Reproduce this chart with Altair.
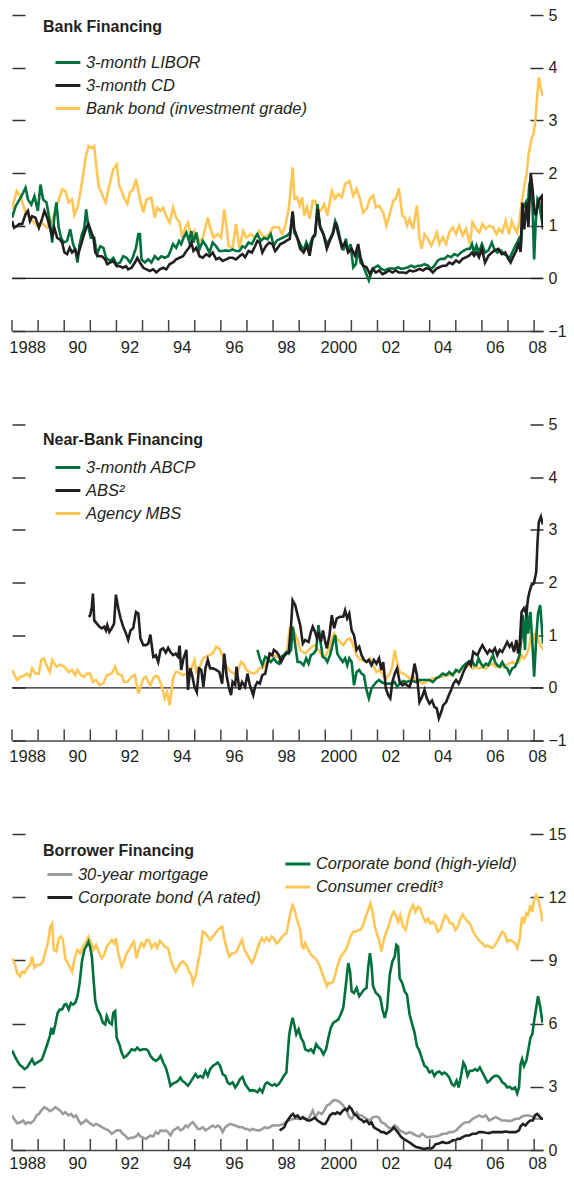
import altair as alt
import pandas as pd

# ------------------------------------------------------------------ data
# (decimal year, percentage points) pairs
LIBOR = [(1988.00,1.15),(1988.14,1.37),(1988.33,1.53),(1988.52,1.72),(1988.61,1.50),(1988.74,1.40),(1988.86,1.56),(1988.99,1.28),(1989.09,1.78),(1989.19,1.50),(1989.32,1.44),(1989.45,1.09),(1989.54,0.68),(1989.62,1.15),(1989.70,1.44),(1989.79,0.96),(1989.88,0.77),(1989.98,0.68),(1990.11,0.71),(1990.23,0.93),(1990.34,0.65),(1990.42,0.55),(1990.51,0.30),(1990.59,0.65),(1990.68,0.84),(1990.77,0.96),(1990.84,1.31),(1990.93,0.96),(1991.02,0.77),(1991.15,0.77),(1991.25,0.46),(1991.38,0.61),(1991.50,0.58),(1991.60,0.39),(1991.76,0.33),(1991.88,0.39),(1992.01,0.27),(1992.14,0.30),(1992.26,0.42),(1992.39,0.39),(1992.52,0.30),(1992.62,0.39),(1992.75,0.58),(1992.84,0.84),(1992.90,0.84),(1992.96,0.36),(1993.09,0.30),(1993.22,0.36),(1993.34,0.30),(1993.47,0.42),(1993.60,0.36),(1993.72,0.42),(1993.85,0.39),(1993.98,0.42),(1994.07,0.52),(1994.17,0.65),(1994.29,0.58),(1994.40,0.71),(1994.48,0.65),(1994.57,0.77),(1994.68,0.87),(1994.78,0.71),(1994.87,0.90),(1994.95,0.68),(1995.06,0.87),(1995.18,0.55),(1995.31,0.71),(1995.44,0.61),(1995.56,0.49),(1995.69,0.68),(1995.82,0.61),(1995.94,0.52),(1996.07,0.52),(1996.20,0.53),(1996.32,0.52),(1996.45,0.55),(1996.58,0.52),(1996.71,0.52),(1996.83,0.61),(1996.93,0.58),(1997.06,0.68),(1997.19,0.65),(1997.31,0.77),(1997.40,0.84),(1997.53,0.71),(1997.66,0.77),(1997.78,0.74),(1997.91,0.84),
         (1998.03,0.62),(1998.15,0.72),(1998.28,0.75),(1998.41,0.78),(1998.53,0.81),(1998.66,0.87),(1998.75,1.25),(1998.81,0.87),(1998.92,0.78),(1999.04,0.65),(1999.17,0.53),(1999.27,0.68),(1999.36,0.56),(1999.49,0.75),(1999.61,0.81),(1999.70,1.41),(1999.80,1.00),(1999.93,0.84),(2000.06,0.65),(2000.18,0.75),(2000.29,0.87),(2000.38,1.09),(2000.46,1.00),(2000.57,0.75),(2000.69,0.53),(2000.79,0.75),(2000.88,0.49),(2000.97,0.65),(2001.07,0.21),(2001.17,0.27),(2001.26,0.56),(2001.35,0.30),(2001.45,0.24),(2001.55,0.11),(2001.67,-0.04),(2001.77,0.11),(2001.90,0.21),(2002.02,0.24),(2002.15,0.18),(2002.28,0.15),(2002.41,0.18),(2002.53,0.19),(2002.66,0.18),(2002.79,0.21),(2002.91,0.18),(2003.04,0.19),(2003.17,0.21),(2003.29,0.24),(2003.42,0.21),(2003.55,0.24),(2003.67,0.24),(2003.80,0.27),(2003.93,0.24),(2004.06,0.18),(2004.18,0.24),(2004.31,0.34),(2004.44,0.37),(2004.56,0.37),(2004.69,0.43),(2004.82,0.40),(2004.94,0.46),(2005.07,0.43),(2005.20,0.49),(2005.32,0.53),(2005.45,0.56),(2005.54,0.56),(2005.62,0.65),(2005.70,0.49),(2005.79,0.62),(2005.89,0.49),(2006.00,0.65),(2006.12,0.49),(2006.25,0.53),(2006.38,0.68),(2006.47,0.56),(2006.59,0.49),(2006.72,0.53),(2006.85,0.46),(2006.97,0.43),(2007.06,0.37),(2007.16,0.49),(2007.29,0.62),(2007.42,0.75),(2007.49,0.56),(2007.58,1.33),(2007.68,1.44),(2007.74,1.20),(2007.81,1.76),(2007.87,1.89),(2007.94,1.37),(2008.00,0.36),(2008.06,1.05),(2008.13,1.50),(2008.19,1.44),(2008.26,1.20),(2008.33,1.00)]

CD = [(1988.00,1.09),(1988.08,0.96),(1988.18,0.99),(1988.27,1.03),(1988.39,1.03),(1988.52,1.22),(1988.61,1.28),(1988.69,1.09),(1988.77,1.18),(1988.90,1.15),(1989.03,0.96),(1989.15,1.13),(1989.24,1.28),(1989.35,1.15),(1989.45,0.96),(1989.54,0.80),(1989.62,0.96),(1989.73,0.77),(1989.83,0.74),(1989.92,0.68),(1990.01,0.49),(1990.11,0.46),(1990.21,0.58),(1990.30,0.49),(1990.42,0.55),(1990.51,0.42),(1990.61,0.58),(1990.72,0.77),(1990.84,0.96),(1990.93,1.03),(1991.02,0.90),(1991.12,0.77),(1991.19,0.49),(1991.31,0.42),(1991.44,0.42),(1991.57,0.36),(1991.65,0.27),(1991.76,0.30),(1991.88,0.33),(1992.01,0.23),(1992.14,0.23),(1992.24,0.20),(1992.37,0.23),(1992.45,0.17),(1992.58,0.20),(1992.71,0.30),(1992.80,0.39),(1992.90,0.30),(1993.03,0.20),(1993.15,0.17),(1993.28,0.14),(1993.41,0.17),(1993.53,0.11),(1993.66,0.17),(1993.79,0.20),(1993.91,0.17),(1994.04,0.27),(1994.17,0.30),(1994.29,0.36),(1994.42,0.39),(1994.55,0.42),(1994.68,0.52),(1994.78,0.58),(1994.87,0.68),(1994.95,0.52),(1995.06,0.58),(1995.18,0.42),(1995.31,0.39),(1995.44,0.46),(1995.56,0.42),(1995.69,0.49),(1995.82,0.36),(1995.94,0.39),(1996.07,0.33),(1996.20,0.36),(1996.32,0.39),(1996.45,0.39),(1996.58,0.36),(1996.71,0.42),(1996.83,0.46),(1996.93,0.40),(1997.06,0.52),(1997.19,0.49),(1997.31,0.61),(1997.40,0.71),(1997.49,0.68),(1997.59,0.49),(1997.72,0.61),(1997.85,0.68),(1997.97,0.65),
      (1998.08,0.52),(1998.15,0.56),(1998.28,0.65),(1998.41,0.68),(1998.53,0.72),(1998.64,0.75),(1998.75,1.27),(1998.81,0.94),(1998.92,0.78),(1999.04,0.56),(1999.17,0.49),(1999.30,0.62),(1999.40,0.43),(1999.52,0.78),(1999.61,0.84),(1999.71,1.32),(1999.80,0.97),(1999.93,0.84),(2000.06,0.56),(2000.18,0.72),(2000.29,0.84),(2000.40,1.06),(2000.50,0.84),(2000.63,0.59),(2000.76,0.68),(2000.88,0.49),(2001.01,0.56),(2001.14,0.43),(2001.26,0.65),(2001.35,0.40),(2001.45,0.24),(2001.58,0.21),(2001.71,0.08),(2001.81,0.18),(2001.94,0.11),(2002.06,0.15),(2002.19,0.08),(2002.32,0.11),(2002.44,0.15),(2002.57,0.11),(2002.70,0.15),(2002.82,0.11),(2002.98,0.11),(2003.10,0.10),(2003.23,0.15),(2003.36,0.13),(2003.48,0.15),(2003.61,0.18),(2003.74,0.15),(2003.86,0.19),(2003.99,0.18),(2004.12,0.11),(2004.25,0.18),(2004.37,0.21),(2004.50,0.24),(2004.63,0.24),(2004.75,0.30),(2004.88,0.27),(2005.01,0.34),(2005.13,0.30),(2005.26,0.37),(2005.39,0.40),(2005.51,0.43),(2005.62,0.49),(2005.70,0.43),(2005.79,0.49),(2005.89,0.40),(2006.00,0.56),(2006.12,0.30),(2006.25,0.43),(2006.38,0.49),(2006.50,0.53),(2006.63,0.56),(2006.76,0.46),(2006.89,0.49),(2007.01,0.37),(2007.10,0.30),(2007.19,0.40),(2007.32,0.53),(2007.42,0.68),(2007.48,0.50),(2007.55,1.44),(2007.62,0.93),(2007.72,1.44),(2007.78,0.97),(2007.87,2.00),(2007.94,1.69),(2008.00,1.33),(2008.06,1.20),(2008.19,1.50),(2008.29,1.56),(2008.34,0.93)]

BANK_BOND = [(1988.00,1.31),(1988.18,1.66),(1988.33,1.56),(1988.46,1.34),(1988.58,1.20),(1988.77,1.10),(1988.96,1.00),(1989.15,1.05),(1989.35,0.96),(1989.54,1.10),(1989.73,1.40),(1989.92,1.69),(1990.04,1.66),(1990.17,1.44),(1990.30,1.50),(1990.39,1.20),(1990.51,1.35),(1990.61,1.60),(1990.72,1.95),(1990.82,2.30),(1990.93,2.51),(1991.06,2.47),(1991.15,2.51),(1991.22,2.16),(1991.32,1.75),(1991.50,1.53),(1991.59,1.44),(1991.72,1.75),(1991.88,2.07),(1992.01,2.16),(1992.11,1.75),(1992.20,1.66),(1992.29,1.53),(1992.42,1.41),(1992.52,1.63),(1992.64,1.69),(1992.75,1.88),(1992.84,1.66),(1992.92,1.47),(1993.03,1.25),(1993.15,1.50),(1993.34,1.53),(1993.47,1.15),(1993.56,1.34),(1993.69,1.28),(1993.79,1.34),(1993.91,1.18),(1994.04,1.06),(1994.17,1.34),(1994.29,1.15),(1994.42,1.06),(1994.52,0.77),(1994.64,0.96),(1994.74,1.06),(1994.87,0.77),(1994.99,0.90),(1995.12,0.68),(1995.31,0.77),(1995.50,1.15),(1995.59,0.96),(1995.72,0.77),(1995.88,0.84),(1996.01,0.77),(1996.13,1.31),(1996.22,0.96),(1996.30,0.61),(1996.45,0.58),(1996.58,1.03),(1996.71,0.58),(1996.86,0.90),(1996.98,0.77),(1997.15,0.84),(1997.31,0.77),(1997.47,0.90),(1997.66,0.77),(1997.85,0.84),(1997.98,0.96),
             (1998.10,0.97),(1998.22,0.97),(1998.35,0.84),(1998.47,1.00),(1998.60,1.32),(1998.69,1.76),(1998.75,2.11),(1998.82,1.51),(1998.92,1.54),(1999.02,1.38),(1999.11,1.54),(1999.20,1.19),(1999.30,1.35),(1999.40,1.13),(1999.52,1.47),(1999.61,1.47),(1999.74,1.25),(1999.87,1.32),(1999.96,1.41),(2000.08,1.19),(2000.25,1.66),(2000.37,1.51),(2000.50,1.60),(2000.63,1.54),(2000.76,1.79),(2000.92,1.85),(2001.07,1.57),(2001.20,1.70),(2001.33,1.51),(2001.45,1.25),(2001.58,1.32),(2001.71,1.51),(2001.83,1.57),(2001.94,1.35),(2002.06,1.38),(2002.22,1.25),(2002.34,1.00),(2002.47,1.22),(2002.60,1.47),(2002.70,1.51),(2002.82,1.71),(2002.95,1.19),(2003.04,1.16),(2003.13,1.00),(2003.23,1.13),(2003.36,0.94),(2003.51,1.38),(2003.61,0.75),(2003.69,0.56),(2003.80,0.84),(2003.93,0.75),(2004.06,0.62),(2004.18,0.75),(2004.27,0.87),(2004.37,0.65),(2004.50,0.78),(2004.63,0.65),(2004.75,0.87),(2004.88,0.97),(2005.01,0.84),(2005.13,1.00),(2005.26,0.81),(2005.39,0.94),(2005.54,0.65),(2005.64,1.06),(2005.77,0.94),(2005.90,0.87),(2006.02,1.03),(2006.15,0.94),(2006.28,1.00),(2006.43,0.97),(2006.56,0.84),(2006.66,0.94),(2006.78,0.87),(2006.91,1.09),(2007.04,0.84),(2007.14,1.09),(2007.23,0.97),(2007.35,0.87),(2007.44,1.09),(2007.52,1.44),(2007.61,1.70),(2007.70,1.95),(2007.80,2.39),(2007.90,2.65),(2007.99,2.77),(2008.05,3.03),(2008.12,3.47),(2008.18,3.82),(2008.26,3.59),(2008.33,3.47)]

ABCP = [(1997.40,0.72),(1997.49,0.56),(1997.59,0.43),(1997.70,0.59),(1997.78,0.56),(1997.91,0.49),(1998.03,0.56),(1998.13,0.49),(1998.22,0.46),(1998.31,0.59),(1998.41,0.62),(1998.51,0.68),(1998.60,0.65),(1998.69,0.72),(1998.76,1.16),(1998.85,0.81),(1998.94,0.49),(1999.04,0.49),(1999.17,0.43),(1999.27,0.56),(1999.36,0.46),(1999.45,0.62),(1999.55,0.65),(1999.65,0.72),(1999.74,1.19),(1999.80,0.94),(1999.90,0.59),(2000.00,0.56),(2000.08,0.49),(2000.18,0.62),(2000.29,0.84),(2000.38,1.00),(2000.46,0.65),(2000.57,0.56),(2000.67,0.49),(2000.76,0.56),(2000.84,0.43),(2000.92,0.56),(2001.01,0.49),(2001.10,0.05),(2001.20,0.30),(2001.30,0.34),(2001.39,0.27),(2001.48,0.24),(2001.58,-0.04),(2001.67,-0.20),(2001.77,-0.01),(2001.86,0.05),(2001.96,0.11),(2002.06,0.15),(2002.15,0.11),(2002.28,0.08),(2002.41,0.08),(2002.53,0.08),(2002.66,0.11),(2002.75,0.02),(2002.85,0.08),(2002.98,0.13),(2003.10,0.11),(2003.23,0.13),(2003.36,0.13),(2003.48,0.11),(2003.61,0.15),(2003.74,0.15),(2003.86,0.15),(2003.99,0.15),(2004.12,0.11),(2004.25,0.18),(2004.37,0.21),(2004.50,0.27),(2004.63,0.24),(2004.75,0.30),(2004.88,0.24),(2005.01,0.34),(2005.13,0.30),(2005.26,0.40),(2005.39,0.46),(2005.49,0.49),(2005.62,0.53),(2005.70,0.43),(2005.79,0.43),(2005.87,0.56),(2005.96,0.46),(2006.05,0.40),(2006.15,0.46),(2006.25,0.43),(2006.34,0.53),(2006.43,0.62),(2006.50,0.49),(2006.59,0.43),(2006.68,0.40),(2006.78,0.49),(2006.88,0.40),(2006.97,0.37),(2007.06,0.27),(2007.16,0.37),(2007.27,0.40),(2007.35,0.49),(2007.44,0.62),(2007.52,0.97),(2007.57,1.38),(2007.65,0.72),(2007.71,1.57),(2007.77,1.03),(2007.86,1.44),(2007.93,0.87),(2008.00,0.21),(2008.08,0.94),(2008.15,1.41),(2008.23,1.57),(2008.29,1.19),(2008.34,0.84)]

ABS = [(1990.93,1.35),(1990.99,1.37),(1991.06,1.54),(1991.10,1.79),(1991.15,1.28),(1991.25,1.22),(1991.35,1.16),(1991.44,1.13),(1991.53,1.16),(1991.60,1.09),(1991.65,1.19),(1991.73,1.06),(1991.82,1.13),(1991.91,1.22),(1991.98,1.77),(1992.07,1.51),(1992.16,1.32),(1992.26,1.16),(1992.37,1.03),(1992.45,0.91),(1992.54,1.09),(1992.64,1.13),(1992.75,1.44),(1992.84,1.41),(1992.92,0.94),(1993.03,0.81),(1993.13,0.81),(1993.22,0.84),(1993.30,1.01),(1993.41,0.59),(1993.51,0.62),(1993.60,0.49),(1993.69,0.72),(1993.79,0.75),(1993.89,0.67),(1993.98,0.76),(1994.07,0.68),(1994.17,0.62),(1994.27,0.65),(1994.36,0.59),(1994.42,0.80),(1994.48,0.34),(1994.57,0.56),(1994.68,0.72),(1994.74,-0.04),(1994.83,0.37),(1994.90,0.24),(1994.99,0.02),(1995.08,-0.08),(1995.16,0.37),(1995.25,0.34),(1995.33,0.02),(1995.41,0.37),(1995.50,0.53),(1995.59,0.37),(1995.69,0.37),(1995.82,0.34),(1995.94,0.30),(1996.05,0.08),(1996.13,0.65),(1996.22,0.24),(1996.30,0.02),(1996.39,-0.14),(1996.45,0.11),(1996.55,0.05),(1996.60,0.40),(1996.71,-0.04),(1996.81,0.11),(1996.93,0.02),(1997.02,0.27),(1997.11,0.05),(1997.24,-0.14),(1997.31,0.02),(1997.40,0.11),(1997.49,0.08),(1997.59,0.24),(1997.70,0.27),(1997.78,0.46),(1997.87,0.65),(1997.97,0.62),
       (1998.03,0.72),(1998.13,0.68),(1998.22,0.62),(1998.31,0.49),(1998.41,0.59),(1998.51,0.65),(1998.60,0.68),(1998.69,1.19),(1998.75,1.66),(1998.85,1.57),(1998.94,1.38),(1999.04,1.19),(1999.14,0.84),(1999.23,0.91),(1999.36,0.87),(1999.45,1.06),(1999.52,1.16),(1999.61,1.06),(1999.68,0.94),(1999.74,1.06),(1999.83,0.87),(1999.91,1.09),(2000.00,0.87),(2000.06,0.75),(2000.16,1.00),(2000.25,1.38),(2000.34,1.13),(2000.44,1.32),(2000.57,1.35),(2000.69,1.35),(2000.76,1.47),(2000.84,1.32),(2000.92,1.41),(2001.01,1.09),(2001.10,1.00),(2001.20,0.72),(2001.30,0.78),(2001.39,0.62),(2001.48,0.53),(2001.58,0.49),(2001.67,0.53),(2001.77,0.43),(2001.86,0.53),(2001.96,0.46),(2002.06,0.56),(2002.15,0.34),(2002.22,0.49),(2002.32,-0.01),(2002.41,-0.14),(2002.49,-0.20),(2002.57,0.11),(2002.66,0.27),(2002.75,0.37),(2002.85,0.11),(2002.95,0.05),(2003.04,0.08),(2003.13,0.05),(2003.23,0.02),(2003.33,0.18),(2003.42,0.46),(2003.51,0.24),(2003.61,-0.27),(2003.71,-0.17),(2003.80,-0.04),(2003.89,-0.20),(2003.99,-0.30),(2004.09,-0.24),(2004.18,-0.36),(2004.27,-0.39),(2004.35,-0.58),(2004.44,-0.46),(2004.52,-0.33),(2004.63,-0.27),(2004.73,-0.14),(2004.82,-0.04),(2004.91,0.08),(2005.01,0.15),(2005.11,0.08),(2005.20,0.18),(2005.29,0.30),(2005.39,0.40),(2005.49,0.49),(2005.58,0.43),(2005.67,0.68),(2005.74,0.65),(2005.83,0.62),(2005.92,0.72),(2006.02,0.81),(2006.12,0.72),(2006.21,0.65),(2006.30,0.72),(2006.40,0.68),(2006.50,0.75),(2006.59,0.62),(2006.68,0.72),(2006.78,0.68),(2006.88,0.78),(2006.97,0.87),(2007.06,0.78),(2007.14,0.84),(2007.23,0.68),(2007.32,0.91),(2007.39,0.65),(2007.44,0.78),(2007.52,1.44),(2007.61,1.51),(2007.70,1.41),(2007.77,1.70),(2007.82,1.82),(2007.90,1.95),(2007.99,1.98),(2008.08,2.20),(2008.13,2.77),(2008.18,3.15),(2008.26,3.25),(2008.33,3.10)]

AGENCY_MBS = [(1988.00,0.34),(1988.10,0.24),(1988.20,0.15),(1988.33,0.21),(1988.46,0.23),(1988.58,0.27),(1988.69,0.21),(1988.77,0.37),(1988.90,0.27),(1989.03,0.27),(1989.12,0.53),(1989.22,0.56),(1989.32,0.43),(1989.45,0.30),(1989.54,0.53),(1989.70,0.40),(1989.85,0.44),(1990.01,0.40),(1990.17,0.30),(1990.30,0.34),(1990.42,0.24),(1990.51,0.34),(1990.64,0.24),(1990.77,0.21),(1990.87,0.27),(1990.99,0.27),(1991.10,0.11),(1991.22,0.15),(1991.35,0.05),(1991.50,0.08),(1991.63,0.24),(1991.82,0.27),(1991.95,0.40),(1992.04,0.27),(1992.20,0.24),(1992.29,0.11),(1992.42,0.11),(1992.58,0.21),(1992.71,0.24),(1992.84,-0.11),(1992.92,0.02),(1993.03,0.18),(1993.13,0.21),(1993.22,0.11),(1993.30,0.05),(1993.41,0.18),(1993.51,0.23),(1993.60,0.21),(1993.72,0.05),(1993.85,-0.20),(1993.94,-0.08),(1994.04,-0.33),(1994.17,0.18),(1994.27,0.30),(1994.36,0.30),(1994.45,0.27),(1994.55,0.24),(1994.68,0.27),(1994.78,0.37),(1994.87,0.37),(1994.99,0.53),(1995.06,0.30),(1995.18,0.37),(1995.31,0.56),(1995.44,0.59),(1995.56,0.62),(1995.69,0.65),(1995.82,0.78),(1995.94,0.75),(1996.05,0.62),(1996.13,0.49),(1996.26,0.37),(1996.39,0.30),(1996.52,0.27),(1996.64,0.30),(1996.77,0.49),(1996.86,0.46),(1996.98,0.34),(1997.11,0.30),(1997.24,0.27),(1997.37,0.30),(1997.47,0.37),(1997.59,0.37),(1997.72,0.46),(1997.85,0.56),(1997.97,0.62),
              (1998.05,0.62),(1998.15,0.59),(1998.28,0.56),(1998.41,0.62),(1998.53,0.68),(1998.64,1.13),(1998.72,1.16),(1998.81,1.06),(1998.92,0.94),(1999.04,0.72),(1999.14,0.68),(1999.23,0.65),(1999.36,0.72),(1999.49,0.78),(1999.61,0.81),(1999.74,0.72),(1999.87,0.62),(2000.00,0.59),(2000.12,0.72),(2000.25,0.94),(2000.34,1.03),(2000.44,0.94),(2000.57,0.87),(2000.69,0.81),(2000.82,0.91),(2000.95,0.94),(2001.07,0.81),(2001.20,0.62),(2001.33,0.53),(2001.45,0.53),(2001.58,0.49),(2001.71,0.56),(2001.83,0.43),(2001.96,0.30),(2002.09,0.34),(2002.21,0.24),(2002.34,0.18),(2002.47,0.27),(2002.57,0.40),(2002.66,0.72),(2002.75,0.49),(2002.85,0.30),(2002.98,0.27),(2003.10,0.24),(2003.23,0.18),(2003.36,0.21),(2003.48,0.15),(2003.61,0.11),(2003.74,0.08),(2003.86,0.11),(2003.99,0.15),(2004.12,0.18),(2004.25,0.18),(2004.37,0.21),(2004.50,0.21),(2004.63,0.24),(2004.75,0.24),(2004.88,0.27),(2005.01,0.30),(2005.13,0.34),(2005.26,0.37),(2005.39,0.40),(2005.51,0.43),(2005.64,0.37),(2005.77,0.40),(2005.89,0.37),(2006.02,0.40),(2006.15,0.37),(2006.28,0.43),(2006.40,0.46),(2006.53,0.40),(2006.66,0.40),(2006.78,0.40),(2006.91,0.43),(2007.04,0.46),(2007.16,0.49),(2007.29,0.46),(2007.42,0.49),(2007.52,0.62),(2007.61,0.56),(2007.70,0.62),(2007.80,0.75),(2007.90,1.06),(2007.99,0.94),(2008.08,1.09),(2008.18,0.87),(2008.28,0.78),(2008.34,0.72)]

MORTGAGE = [(1988.00,1.64),(1988.10,1.43),(1988.20,1.27),(1988.33,1.32),(1988.43,1.40),(1988.52,1.24),(1988.61,1.32),(1988.71,1.27),(1988.84,1.40),(1988.94,1.64),(1989.03,1.71),(1989.12,1.87),(1989.24,2.03),(1989.35,1.95),(1989.45,1.84),(1989.54,1.90),(1989.66,2.03),(1989.75,1.95),(1989.85,1.87),(1989.95,1.71),(1990.04,1.79),(1990.17,1.64),(1990.26,1.71),(1990.36,1.56),(1990.46,1.64),(1990.55,1.40),(1990.64,1.24),(1990.74,1.32),(1990.84,1.43),(1990.93,1.32),(1991.02,1.24),(1991.12,1.16),(1991.22,1.24),(1991.35,1.16),(1991.44,1.08),(1991.57,1.00),(1991.69,0.93),(1991.82,0.77),(1991.91,0.85),(1992.01,0.93),(1992.14,0.93),(1992.24,0.77),(1992.33,0.69),(1992.45,0.53),(1992.54,0.58),(1992.64,0.58),(1992.75,0.64),(1992.84,0.77),(1992.92,0.64),(1993.03,0.58),(1993.13,0.53),(1993.22,0.61),(1993.30,0.69),(1993.41,0.64),(1993.51,0.85),(1993.60,0.77),(1993.69,0.93),(1993.79,0.90),(1993.89,0.93),(1993.98,0.85),(1994.07,0.69),(1994.17,0.93),(1994.27,1.00),(1994.36,1.08),(1994.45,0.93),(1994.55,1.00),(1994.65,1.16),(1994.74,1.08),(1994.83,1.24),(1994.93,1.32),(1995.03,1.16),(1995.12,1.00),(1995.21,1.00),(1995.31,1.08),(1995.41,0.93),(1995.50,1.00),(1995.59,1.08),(1995.69,1.16),(1995.79,1.08),(1995.88,1.16),(1995.97,1.08),(1996.07,0.85),(1996.17,1.08),(1996.26,1.16),(1996.35,1.24),(1996.45,1.20),(1996.55,1.16),(1996.64,1.12),(1996.73,1.08),(1996.83,1.08),(1996.93,1.00),(1997.02,1.00),(1997.11,0.93),(1997.21,1.00),(1997.31,0.96),(1997.40,0.93),(1997.49,0.93),(1997.59,1.00),(1997.70,1.08),(1997.78,1.04),(1997.87,1.08),(1997.97,1.16),
            (1998.22,1.16),(1998.41,1.24),(1998.60,1.40),(1998.79,1.48),(1998.98,1.48),(1999.17,1.48),(1999.36,1.48),(1999.52,1.87),(1999.61,1.56),(1999.74,1.79),(1999.87,1.71),(1999.96,1.87),(2000.06,2.11),(2000.18,2.19),(2000.29,2.34),(2000.38,2.37),(2000.46,2.34),(2000.57,2.26),(2000.69,2.11),(2000.82,1.87),(2000.92,1.56),(2001.01,1.48),(2001.10,1.64),(2001.20,1.79),(2001.30,1.64),(2001.39,1.64),(2001.48,1.56),(2001.58,1.48),(2001.71,1.40),(2001.83,1.56),(2001.96,1.59),(2002.06,1.53),(2002.15,1.32),(2002.28,1.24),(2002.41,1.08),(2002.53,1.00),(2002.66,1.16),(2002.75,1.08),(2002.85,0.93),(2002.98,0.85),(2003.10,0.77),(2003.23,0.85),(2003.36,0.77),(2003.48,0.69),(2003.61,0.64),(2003.71,0.77),(2003.80,0.69),(2003.89,0.61),(2003.99,0.61),(2004.12,0.64),(2004.25,0.64),(2004.37,0.69),(2004.50,0.77),(2004.63,0.77),(2004.75,0.85),(2004.88,0.85),(2005.01,0.93),(2005.13,1.08),(2005.26,1.24),(2005.39,1.32),(2005.51,1.32),(2005.64,1.48),(2005.77,1.56),(2005.89,1.64),(2006.02,1.56),(2006.15,1.64),(2006.28,1.40),(2006.40,1.48),(2006.53,1.56),(2006.66,1.48),(2006.78,1.40),(2006.91,1.40),(2007.04,1.37),(2007.16,1.40),(2007.29,1.48),(2007.42,1.48),(2007.54,1.59),(2007.67,1.64),(2007.80,1.64),(2007.93,1.59),(2008.05,1.48),(2008.18,1.48),(2008.31,1.48)]

CORP_A = [(1998.25,0.93),(1998.34,1.00),(1998.43,1.08),(1998.51,1.32),(1998.60,1.48),(1998.69,1.64),(1998.76,1.71),(1998.85,1.56),(1998.94,1.64),(1999.04,1.48),(1999.14,1.56),(1999.23,1.48),(1999.32,1.40),(1999.42,1.40),(1999.52,1.48),(1999.61,1.53),(1999.70,1.40),(1999.80,1.32),(1999.90,1.24),(2000.00,1.24),(2000.08,1.40),(2000.18,1.64),(2000.29,1.75),(2000.38,1.71),(2000.46,1.79),(2000.57,1.71),(2000.67,1.87),(2000.76,1.95),(2000.84,1.87),(2000.92,2.06),(2001.01,1.95),(2001.10,1.71),(2001.20,1.64),(2001.30,1.48),(2001.39,1.43),(2001.48,1.32),(2001.58,1.40),(2001.68,1.24),(2001.77,1.32),(2001.86,1.08),(2001.96,1.00),(2002.06,0.93),(2002.15,0.85),(2002.24,0.85),(2002.34,0.77),(2002.44,0.85),(2002.53,0.93),(2002.62,1.08),(2002.72,0.93),(2002.82,0.77),(2002.91,0.61),(2003.00,0.53),(2003.10,0.46),(2003.20,0.38),(2003.29,0.30),(2003.38,0.22),(2003.48,0.14),(2003.61,0.11),(2003.74,0.06),(2003.84,0.06),(2003.93,0.09),(2004.02,0.06),(2004.12,0.11),(2004.22,0.27),(2004.31,0.30),(2004.40,0.33),(2004.50,0.38),(2004.60,0.33),(2004.69,0.33),(2004.78,0.38),(2004.88,0.46),(2004.98,0.46),(2005.07,0.53),(2005.16,0.53),(2005.26,0.61),(2005.39,0.69),(2005.51,0.69),(2005.64,0.77),(2005.77,0.77),(2005.89,0.85),(2006.02,0.85),(2006.15,0.82),(2006.28,0.80),(2006.40,0.85),(2006.53,0.85),(2006.66,0.85),(2006.78,0.85),(2006.91,0.88),(2007.04,0.85),(2007.16,0.85),(2007.29,0.85),(2007.42,0.93),(2007.48,1.12),(2007.57,1.24),(2007.67,1.16),(2007.77,1.32),(2007.86,1.40),(2007.95,1.40),(2008.03,1.64),(2008.12,1.71),(2008.18,1.64),(2008.28,1.48),(2008.34,1.48)]

HIGH_YIELD = [(1988.00,4.73),(1988.10,4.47),(1988.20,4.23),(1988.30,4.04),(1988.39,3.95),(1988.48,3.84),(1988.58,3.92),(1988.69,4.15),(1988.77,4.31),(1988.86,4.07),(1988.96,4.15),(1989.07,4.23),(1989.15,4.31),(1989.24,4.62),(1989.35,5.02),(1989.45,5.41),(1989.51,5.80),(1989.57,5.49),(1989.66,5.96),(1989.75,6.51),(1989.83,6.67),(1989.92,6.67),(1990.01,6.90),(1990.08,6.93),(1990.17,6.67),(1990.26,6.98),(1990.34,6.90),(1990.42,6.98),(1990.51,7.30),(1990.59,7.92),(1990.68,8.95),(1990.77,9.50),(1990.84,9.65),(1990.93,9.89),(1990.99,9.65),(1991.06,9.18),(1991.12,8.16),(1991.19,7.06),(1991.27,6.67),(1991.38,6.43),(1991.48,6.04),(1991.57,5.96),(1991.63,6.35),(1991.73,6.04),(1991.82,5.96),(1991.88,6.51),(1991.95,6.59),(1992.01,5.33),(1992.11,5.02),(1992.20,4.62),(1992.29,4.39),(1992.39,4.47),(1992.49,4.62),(1992.58,4.78),(1992.71,4.73),(1992.80,4.86),(1992.90,4.73),(1993.03,4.78),(1993.13,4.78),(1993.22,4.70),(1993.30,4.47),(1993.41,4.31),(1993.51,4.23),(1993.60,4.31),(1993.69,4.47),(1993.79,4.15),(1993.89,3.92),(1993.98,3.52),(1994.07,3.05),(1994.17,3.16),(1994.27,3.21),(1994.36,3.29),(1994.45,3.44),(1994.52,3.29),(1994.61,3.21),(1994.74,3.05),(1994.83,3.21),(1994.93,3.41),(1995.03,3.60),(1995.12,3.44),(1995.21,3.52),(1995.31,3.44),(1995.41,3.76),(1995.50,3.52),(1995.59,3.84),(1995.69,3.99),(1995.79,4.07),(1995.88,4.15),(1995.97,3.99),(1996.07,3.60),(1996.17,3.52),(1996.26,3.21),(1996.35,3.13),(1996.45,3.21),(1996.55,2.97),(1996.64,3.13),(1996.73,3.36),(1996.83,3.47),(1996.93,3.13),(1997.02,2.97),(1997.11,2.81),(1997.21,2.84),(1997.31,2.81),(1997.40,2.74),(1997.49,2.90),(1997.59,2.74),(1997.70,3.13),(1997.78,3.21),(1997.87,3.13),(1997.97,3.05),
              (1998.06,3.13),(1998.13,3.05),(1998.22,3.13),(1998.31,3.29),(1998.41,3.52),(1998.51,3.68),(1998.56,4.54),(1998.62,5.49),(1998.69,5.96),(1998.75,6.27),(1998.81,5.96),(1998.89,5.49),(1998.98,5.72),(1999.07,5.33),(1999.17,5.09),(1999.23,4.78),(1999.36,4.70),(1999.45,4.78),(1999.55,4.62),(1999.65,5.02),(1999.74,4.86),(1999.83,4.78),(1999.93,4.54),(2000.03,4.78),(2000.12,5.33),(2000.21,5.80),(2000.31,6.04),(2000.41,6.12),(2000.50,6.20),(2000.59,6.43),(2000.69,6.75),(2000.79,7.85),(2000.88,8.87),(2000.95,8.47),(2001.01,7.53),(2001.10,7.45),(2001.20,7.69),(2001.30,7.30),(2001.39,7.45),(2001.48,7.61),(2001.58,7.69),(2001.64,8.63),(2001.71,9.34),(2001.77,8.79),(2001.83,7.77),(2001.94,7.45),(2002.02,7.37),(2002.11,7.22),(2002.19,6.67),(2002.28,6.27),(2002.37,6.75),(2002.47,8.32),(2002.57,8.95),(2002.66,9.18),(2002.72,9.73),(2002.79,9.65),(2002.85,8.16),(2002.95,7.92),(2003.04,7.53),(2003.13,7.37),(2003.23,6.43),(2003.33,5.96),(2003.42,5.57),(2003.51,4.94),(2003.61,4.70),(2003.71,4.31),(2003.80,3.99),(2003.89,3.92),(2003.99,3.68),(2004.09,3.76),(2004.18,3.52),(2004.27,3.68),(2004.37,3.73),(2004.47,3.60),(2004.56,3.68),(2004.65,3.60),(2004.75,3.44),(2004.85,3.13),(2004.94,3.05),(2005.03,3.29),(2005.11,2.97),(2005.20,3.52),(2005.29,4.15),(2005.36,3.99),(2005.45,3.52),(2005.54,3.76),(2005.64,3.76),(2005.74,3.84),(2005.83,3.76),(2005.92,3.92),(2006.02,3.68),(2006.12,3.44),(2006.21,3.21),(2006.30,3.29),(2006.40,3.44),(2006.50,3.52),(2006.59,3.52),(2006.68,3.44),(2006.78,3.21),(2006.88,3.13),(2006.97,2.97),(2007.06,3.00),(2007.16,2.89),(2007.27,2.97),(2007.35,2.69),(2007.42,2.97),(2007.48,4.07),(2007.54,4.31),(2007.61,3.99),(2007.70,4.23),(2007.77,4.70),(2007.86,5.33),(2007.93,5.49),(2008.00,6.12),(2008.08,6.75),(2008.15,7.30),(2008.24,6.75),(2008.31,6.12),(2008.34,6.04)]

CONSUMER = [(1988.00,9.10),(1988.10,8.87),(1988.20,8.40),(1988.30,8.24),(1988.39,8.47),(1988.48,8.40),(1988.58,8.63),(1988.69,8.79),(1988.77,9.18),(1988.86,8.66),(1988.96,8.79),(1989.09,8.79),(1989.19,8.95),(1989.28,9.42),(1989.37,9.81),(1989.47,10.60),(1989.54,10.75),(1989.60,9.50),(1989.70,9.42),(1989.79,10.05),(1989.88,10.13),(1989.95,9.97),(1990.04,9.10),(1990.17,8.79),(1990.30,8.47),(1990.42,9.18),(1990.51,9.50),(1990.61,9.34),(1990.72,9.65),(1990.84,9.89),(1990.93,10.13),(1991.02,9.89),(1991.12,9.50),(1991.22,9.73),(1991.35,9.34),(1991.44,9.10),(1991.53,9.26),(1991.63,9.65),(1991.73,9.81),(1991.82,9.97),(1991.91,9.81),(1991.98,10.05),(1992.07,9.34),(1992.20,8.71),(1992.29,8.95),(1992.39,9.34),(1992.49,9.50),(1992.58,9.73),(1992.67,9.89),(1992.77,9.10),(1992.87,9.58),(1992.96,9.81),(1993.05,9.65),(1993.15,9.97),(1993.25,9.97),(1993.34,9.60),(1993.47,9.81),(1993.56,9.60),(1993.66,9.92),(1993.76,9.81),(1993.85,9.65),(1993.98,9.58),(1994.07,9.10),(1994.17,8.71),(1994.27,8.47),(1994.36,8.66),(1994.45,8.87),(1994.55,8.95),(1994.68,8.79),(1994.78,8.47),(1994.87,8.32),(1994.93,7.92),(1995.03,8.24),(1995.12,8.87),(1995.21,9.42),(1995.31,10.36),(1995.41,10.28),(1995.50,10.13),(1995.59,9.97),(1995.69,10.13),(1995.79,10.28),(1995.88,10.44),(1995.97,10.55),(1996.05,10.60),(1996.13,10.05),(1996.22,9.58),(1996.32,9.18),(1996.43,9.34),(1996.52,9.34),(1996.60,9.42),(1996.71,9.73),(1996.81,9.97),(1996.90,9.50),(1996.98,9.34),(1997.09,9.10),(1997.19,8.87),(1997.28,9.10),(1997.37,9.42),(1997.47,9.81),(1997.57,10.05),(1997.66,9.89),(1997.75,10.08),(1997.85,9.92),(1997.95,10.13),
            (1998.03,10.05),(1998.13,9.81),(1998.22,9.89),(1998.31,10.05),(1998.41,10.20),(1998.51,10.28),(1998.60,10.83),(1998.69,11.38),(1998.75,11.62),(1998.81,11.46),(1998.89,11.07),(1998.98,10.68),(1999.04,10.44),(1999.11,9.65),(1999.17,9.58),(1999.23,9.81),(1999.32,9.58),(1999.42,9.34),(1999.52,9.18),(1999.61,9.10),(1999.70,8.95),(1999.80,8.71),(1999.90,8.32),(2000.00,8.00),(2000.06,7.77),(2000.12,7.92),(2000.21,7.92),(2000.31,8.00),(2000.41,8.47),(2000.50,8.87),(2000.59,9.18),(2000.69,9.34),(2000.79,9.50),(2000.88,9.81),(2000.97,10.13),(2001.07,10.36),(2001.17,10.36),(2001.26,10.44),(2001.35,10.44),(2001.45,10.68),(2001.55,11.07),(2001.64,11.38),(2001.73,11.70),(2001.81,11.30),(2001.90,10.60),(2001.99,10.20),(2002.06,9.97),(2002.15,9.42),(2002.24,9.97),(2002.34,10.36),(2002.44,10.68),(2002.53,11.07),(2002.62,11.30),(2002.70,11.15),(2002.79,10.83),(2002.87,11.15),(2002.98,10.60),(2003.08,10.44),(2003.17,10.99),(2003.26,11.38),(2003.36,11.62),(2003.46,11.30),(2003.55,11.54),(2003.64,11.46),(2003.74,11.07),(2003.84,10.83),(2003.93,10.99),(2004.02,10.75),(2004.12,10.83),(2004.22,10.68),(2004.31,10.36),(2004.40,10.44),(2004.50,10.83),(2004.60,11.15),(2004.69,11.00),(2004.78,10.75),(2004.88,10.75),(2004.98,10.44),(2005.07,10.60),(2005.16,10.91),(2005.26,11.18),(2005.36,11.00),(2005.45,10.83),(2005.54,10.75),(2005.64,10.44),(2005.74,10.20),(2005.83,10.05),(2005.92,9.89),(2006.02,9.81),(2006.12,9.65),(2006.21,9.70),(2006.30,9.65),(2006.40,9.58),(2006.50,9.73),(2006.59,9.89),(2006.68,10.13),(2006.78,10.36),(2006.87,10.28),(2006.97,9.89),(2007.06,9.97),(2007.16,9.92),(2007.27,9.81),(2007.35,9.58),(2007.44,9.97),(2007.54,11.07),(2007.61,10.75),(2007.70,11.23),(2007.77,11.15),(2007.86,11.62),(2007.93,11.30),(2008.00,11.86),(2008.08,12.09),(2008.15,11.93),(2008.24,11.46),(2008.33,10.83)]

# axis ticks and labels
YEAR_TICKS = list(range(1988, 2009))
YEAR_LABEL_POS = [1988.58, 1990.5, 1992.5, 1994.5, 1996.5, 1998.5, 2000.5, 2002.5, 2004.5, 2006.5, 2008.12]
YEAR_LABELS = ["1988", "90", "92", "94", "96", "98", "2000", "02", "04", "06", "08"]
X_DOMAIN = [1988.0, 2008.34]
Y_TICKS_SPREAD = [-1, 0, 1, 2, 3, 4, 5]
Y_TICKS_BORROW = [0, 3, 6, 9, 12, 15]

# ------------------------------------------------------------------ style
FONT = "Liberation Sans, Arial, Helvetica, sans-serif"
FS = 16.5
INK = "#231f20"
GREEN = "#00703c"
BLACK = "#231f20"
YELLOW = "#ffc655"
GRAY = "#9c9c9c"
W, H = 531, 316
LW = 2.6

label_list = "[" + ",".join("'%s'" % s for s in YEAR_LABELS) + "]"
pos_list = "[" + ",".join(repr(p) for p in YEAR_LABEL_POS) + "]"
X_SCALE = alt.Scale(domain=X_DOMAIN, nice=False, zero=False)


def x_axis(pad):
    return alt.Axis(values=YEAR_LABEL_POS, labelExpr=f"{label_list}[indexof({pos_list}, datum.value)]",
                    tickSize=0, domainColor="#444444", domainWidth=1.5, grid=False, title=None,
                    labelFont=FONT, labelFontSize=FS, labelColor=INK, labelPadding=pad,
                    labelFlush=False, labelOverlap=False, labelBound=False)


def frame(series, ticks, domain, title, title_y, legends, zero_line, label_pad):
    """series: list of (name, data, channel) drawn in order."""
    xaxis = x_axis(label_pad)
    yscale = alt.Scale(domain=domain, nice=False, zero=False)
    left_axis = alt.Axis(orient="left", values=ticks, labels=False, domain=False, grid=False,
                         tickSize=13, offset=-13, tickColor="#333333", tickWidth=1.5, title=None,
                         minExtent=0)
    right_axis = alt.Axis(orient="right", values=ticks, domain=False, grid=False,
                          tickSize=13, offset=-13, tickColor="#333333", tickWidth=1.5, title=None,
                          labelFont=FONT, labelFontSize=16, labelColor=INK, labelPadding=5,
                          minExtent=0,
                          labelExpr="datum.value < 0 ? '\u2212' + abs(datum.value) : datum.label")
    layers = []
    if zero_line:
        layers.append(alt.Chart(pd.DataFrame({"v": [0]})).mark_rule(color=INK, strokeWidth=1.2).encode(
            y=alt.Y("v:Q", scale=yscale, axis=None)))
    for i, (name, pts, channel) in enumerate(series):
        df = pd.DataFrame(pts, columns=["t", "v"])
        df["series"] = name
        ax = left_axis if i == 0 else (right_axis if i == 1 else None)
        names, colors, leg = legends[channel]
        sc = alt.Scale(domain=names, range=colors)
        enc = {
            "x": alt.X("t:Q", scale=X_SCALE, axis=xaxis, title=None),
            "y": alt.Y("v:Q", scale=yscale, axis=ax, title=None),
            channel: (alt.Color("series:N", scale=sc, legend=leg) if channel == "color"
                      else alt.Stroke("series:N", scale=sc, legend=leg)),
        }
        layers.append(alt.Chart(df).mark_line(strokeWidth=LW, clip=True).encode(**enc))
    # upward year ticks on the time axis
    layers.append(alt.Chart(pd.DataFrame({"t": YEAR_TICKS})).mark_rule(color="#444444", strokeWidth=1.5).encode(
        x=alt.X("t:Q", scale=X_SCALE, axis=xaxis, title=None),
        y=alt.value(H), y2=alt.value(H - 11)))
    # panel heading
    layers.append(alt.Chart(pd.DataFrame({"label": [title]})).mark_text(
        align="left", baseline="alphabetic", font=FONT, fontSize=16, fontWeight="bold", color=INK).encode(
        x=alt.value(31), y=alt.value(title_y), text="label:N"))
    return alt.layer(*layers).resolve_axis(y="independent").properties(width=W, height=H)


def legend(x, y, row_pad=-4.4):
    return alt.Legend(orient="none", legendX=x, legendY=y, title=None, symbolType="stroke",
                      symbolStrokeWidth=3, symbolSize=620, labelFont=FONT, labelFontSize=FS,
                      labelFontStyle="italic", labelColor=INK, labelOffset=4, labelLimit=500,
                      rowPadding=row_pad, padding=0, direction="vertical")


bank = frame(
    [("Bank bond (investment grade)", BANK_BOND, "color"),
     ("3-month LIBOR", LIBOR, "color"),
     ("3-month CD", CD, "color")],
    Y_TICKS_SPREAD, [-1, 5], "Bank Financing", 17,
    {"color": (["3-month LIBOR", "3-month CD", "Bank bond (investment grade)"],
               [GREEN, BLACK, YELLOW], legend(41.9, 33.5, -4.8))},
    True, 8)

near = frame(
    [("Agency MBS", AGENCY_MBS, "color"),
     ("3-month ABCP", ABCP, "color"),
     ("ABS\u00b2", ABS, "color")],
    Y_TICKS_SPREAD, [-1, 5], "Near-Bank Financing", 20,
    {"color": (["3-month ABCP", "ABS\u00b2", "Agency MBS"],
               [GREEN, BLACK, YELLOW], legend(41.9, 29))},
    True, 8)

borrow = frame(
    [("Consumer credit\u00b3", CONSUMER, "stroke"),
     ("Corporate bond (high-yield)", HIGH_YIELD, "stroke"),
     ("30-year mortgage", MORTGAGE, "color"),
     ("Corporate bond (A rated)", CORP_A, "color")],
    Y_TICKS_BORROW, [0, 15], "Borrower Financing", 22,
    {"color": (["30-year mortgage", "Corporate bond (A rated)"], [GRAY, BLACK],
               legend(33.9, 26.5, -3.9)),
     "stroke": (["Corporate bond (high-yield)", "Consumer credit\u00b3"], [GREEN, YELLOW],
                legend(271.9, 16, -8.9))},
    False, 5)

chart = alt.vconcat(bank, near, borrow, spacing=93.5, bounds="flush").resolve_scale(
    color="independent", stroke="independent").resolve_legend(
    color="independent", stroke="independent").properties(
    padding={"left": 0, "top": -1, "right": -1, "bottom": 1}).configure_view(stroke=None)

chart.save("out.html", embed_options={"renderer": "svg", "actions": False})
